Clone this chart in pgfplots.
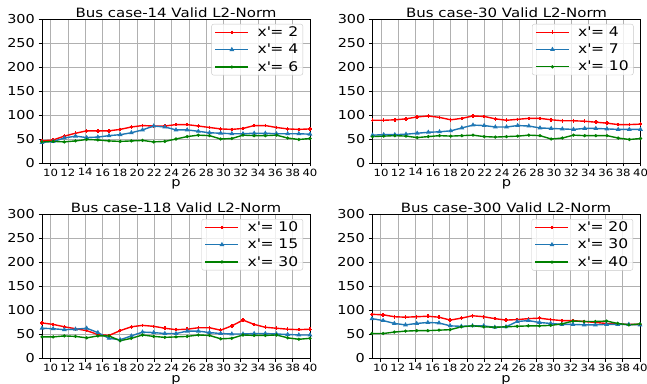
\documentclass[border=0pt]{standalone}
\usepackage{pgfplots}
\pgfplotsset{compat=1.18}
\usepackage{pgfplotstable}
\usepackage{fontspec}
\setmainfont{DejaVu Sans}[FakeStretch=1.17]
\definecolor{mred}{rgb}{1,0,0}
\definecolor{mblue}{HTML}{1F77B4}
\definecolor{mgreen}{HTML}{008000}
\definecolor{mgrid}{HTML}{B0B0B0}
\newcommand{\xp}{x\textquotesingle= }

\pgfplotstableread{
x a b c
9 46 43 44
10.2917 48 45 45
11.5833 56 52 44
12.875 62 56 46
14.1667 67 53 49
15.4583 67 54 48
16.75 67 57 46
18.0417 70 59 45
19.3333 75 63 46
20.625 78 69 47
21.9167 77 77 44
23.2083 77 75 45
24.5 80 69 50
25.7917 80 69 55
27.0833 77 66 58
28.375 74 63 57
29.6667 71 62 50
30.9583 70 61 51
32.25 72 61 58
33.5417 78 62 57
34.8333 78 62 57
36.125 74 61 58
37.4167 71 61 52
38.7083 70 61 49
40 71 60 51
}\caseA
\pgfplotstableread{
x a b c
9 89 58 55
10.2917 89 59 56
11.5833 90 59 57
12.875 92 60 56
14.1667 96 62 53
15.4583 98 64 55
16.75 95 65 57
18.0417 90 67 56
19.3333 93 73 57
20.625 98 79 58
21.9167 97 78 55
23.2083 92 75 54
24.5 89 75 55
25.7917 91 78 56
27.0833 93 77 58
28.375 93 73 57
29.6667 90 72 50
30.9583 88 71 52
32.25 88 70 58
33.5417 87 72 57
34.8333 85 72 57
36.125 83 71 57
37.4167 80 70 52
38.7083 80 70 49
40 81 70 51
}\caseB
\pgfplotstableread{
x a b c
9 73 62 44
10.2917 70 61 44
11.5833 65 59 46
12.875 61 60 45
14.1667 57 62 42
15.4583 49 53 46
16.75 47 41 46
18.0417 57 38 36
19.3333 65 46 41
20.625 68 54 48
21.9167 66 53 45
23.2083 62 51 43
24.5 59 51 44
25.7917 60 56 45
27.0833 63 56 48
28.375 63 53 47
29.6667 58 51 40
30.9583 67 50 41
32.25 79 50 48
33.5417 70 51 47
34.8333 64 51 47
36.125 62 50 48
37.4167 60 49 42
38.7083 59 48 39
40 60 48 41
}\caseC
\pgfplotstableread{
x a b c
9 91 82 51
10.2917 90 78 51
11.5833 86 72 54
12.875 85 69 56
14.1667 86 72 57
15.4583 87 74 57
16.75 85 73 58
18.0417 79 67 59
19.3333 83 66 65
20.625 88 67 67
21.9167 86 67 65
23.2083 82 64 64
24.5 79 65 65
25.7917 80 76 66
27.0833 82 78 67
28.375 83 74 67
29.6667 80 72 68
30.9583 78 70 71
32.25 78 70 77
33.5417 76 69 76
34.8333 74 69 76
36.125 72 70 77
37.4167 71 70 72
38.7083 70 70 69
40 70 69 71
}\caseD

\pgfplotsset{
  every axis/.append style={
    scale only axis, width=268pt, height=144pt,
    xmin=9, xmax=40, ymin=0, ymax=300,
    xtick={10,12,...,40}, ytick={0,50,...,300},
    grid=major,
    major grid style={color=mgrid, line width=0.8pt},
    axis line style={line width=0.8pt, black},
    tick style={line width=0.8pt, black},
    tick align=outside, major tick length=3.5pt,
    xtick pos=bottom, ytick pos=left,
    /pgf/number format/assume math mode=true,
    yticklabel style={font=\fontsize{12.3}{13}\selectfont, inner sep=0pt, xshift=-3.5pt},
    xticklabel style={font=\fontsize{10}{11}\selectfont, inner sep=0pt, yshift=-2pt},
    xlabel={p},
    xlabel style={at={(axis description cs:0.5,0)}, anchor=base, yshift=-24pt, inner sep=0pt, font=\fontsize{12.5}{13}\selectfont},
    title style={at={(axis description cs:0.5,1)}, anchor=base, yshift=-4.2pt, inner sep=0pt, font=\fontsize{12.8}{13}\selectfont},
    legend style={at={(axis description cs:1,1)}, anchor=north east, xshift=-7pt, yshift=-5pt,
      draw=mgrid!70, rounded corners=2pt, fill=white, fill opacity=0.8, text opacity=1,
      font=\fontsize{13.3}{14}\selectfont, inner xsep=3pt, inner ysep=1pt,
      row sep=3pt, nodes={inner sep=1.5pt}},
    legend cell align=left,
    legend image code/.code={\draw[mark repeat=2,mark phase=2,#1] plot coordinates {(0pt,0pt) (16.5pt,0pt) (33pt,0pt)}; \path (40pt,0pt);},
  },
  sr/.style={mred, line width=1.4pt, mark=+, mark size=1.8pt},
  sb/.style={mblue, line width=1.4pt, mark=triangle*, mark size=1.4pt},
  sg/.style={mgreen, line width=1.4pt, mark=*, mark size=0.8pt},
}

\begin{document}
\begin{tikzpicture}
\useasboundingbox (0pt,0pt) rectangle (647pt,383pt);
\begin{axis}[at={(42pt,220pt)}, anchor=south west, title={Bus case-14 Valid L2-Norm}]
\addplot[sr] table[x=x,y=a] {\caseA};
\addplot[sb] table[x=x,y=b] {\caseA};
\addplot[sg] table[x=x,y=c] {\caseA};
\legend{\xp 2, \xp 4, \xp 6}
\end{axis}
\begin{axis}[at={(372.5pt,220pt)}, anchor=south west, title={Bus case-30 Valid L2-Norm}]
\addplot[sr] table[x=x,y=a] {\caseB};
\addplot[sb] table[x=x,y=b] {\caseB};
\addplot[sg] table[x=x,y=c] {\caseB};
\legend{\xp 4, \xp 7, \xp 10}
\end{axis}
\begin{axis}[at={(42pt,25pt)}, anchor=south west, title={Bus case-118 Valid L2-Norm}]
\addplot[sr] table[x=x,y=a] {\caseC};
\addplot[sb] table[x=x,y=b] {\caseC};
\addplot[sg] table[x=x,y=c] {\caseC};
\legend{\xp 10, \xp 15, \xp 30}
\end{axis}
\begin{axis}[at={(372pt,25pt)}, anchor=south west, title={Bus case-300 Valid L2-Norm}]
\addplot[sr] table[x=x,y=a] {\caseD};
\addplot[sb] table[x=x,y=b] {\caseD};
\addplot[sg] table[x=x,y=c] {\caseD};
\legend{\xp 20, \xp 30, \xp 40}
\end{axis}
\end{tikzpicture}
\end{document}
